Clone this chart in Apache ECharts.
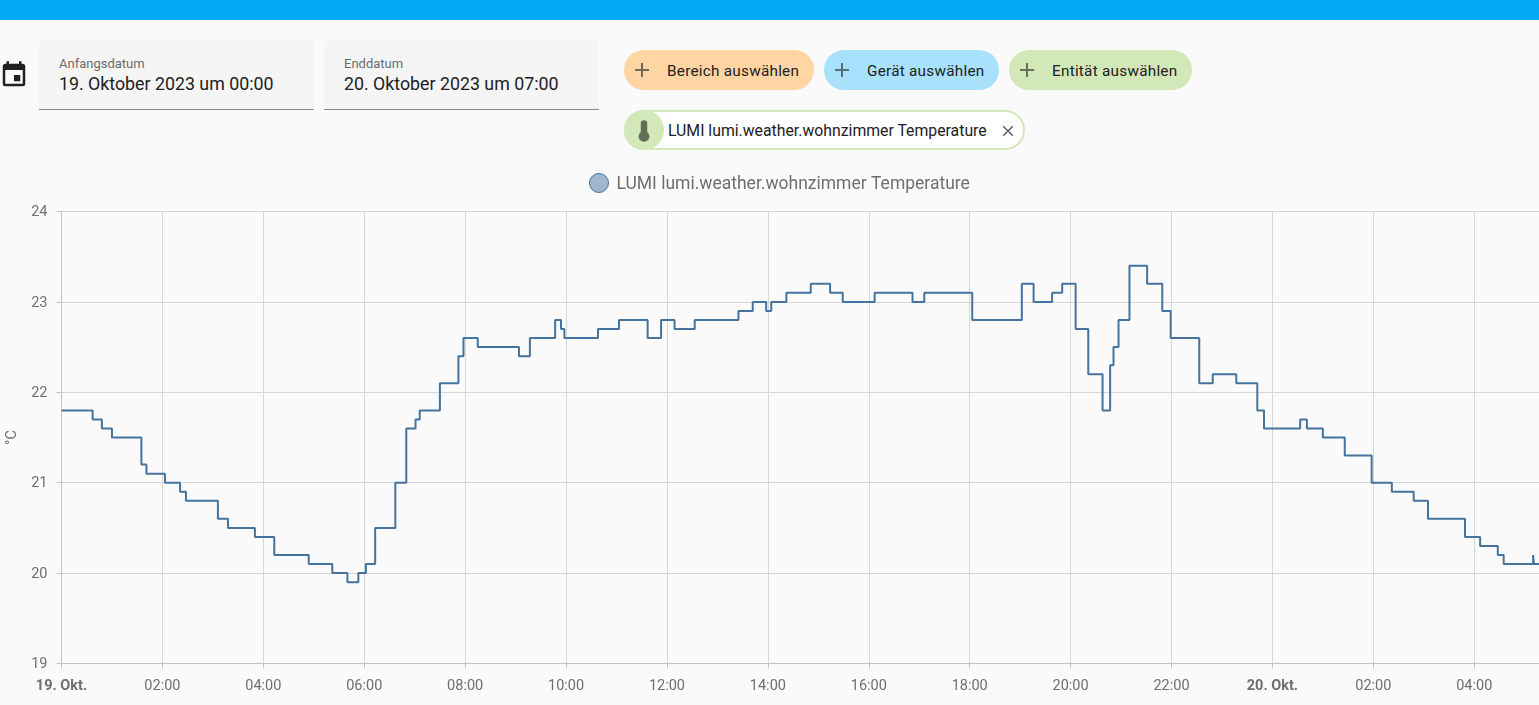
<!DOCTYPE html>
<html lang="de">
  <head>
    <meta charset="UTF-8" />
    <title>Verlauf</title>
    <script src="https://cdn.jsdelivr.net/npm/echarts@6/dist/echarts.min.js"></script>
    <style>
      * { margin: 0; padding: 0; box-sizing: border-box; }
      html, body { width: 1539px; height: 705px; overflow: hidden; background: #fafafa; font-family: Roboto, sans-serif; }
      #topbar { position: absolute; left: 0; top: 0; width: 1539px; height: 20px; background: #03a9f4; }
      #charts { position: absolute; left: 0; top: 160px; width: 1539px; height: 545px; }
      .field { position: absolute; top: 40px; width: 275px; height: 70px; background: #f5f5f5; border-bottom: 1px solid #8c8c8c; border-radius: 4px 4px 0 0; }
      .field .lab { position: absolute; left: 20px; top: 16px; font-size: 13px; color: #6b6b6b; }
      .field .val { position: absolute; left: 20px; top: 33px; font-size: 17.8px; color: #212121; white-space: nowrap; }
      .chip { position: absolute; top: 50px; height: 40px; border-radius: 20px; font-size: 15.3px; line-height: 42px; color: #212121; white-space: nowrap; letter-spacing: 0.25px; }
      .chip svg { position: absolute; left: 6px; top: 8px; }
      .chip span { position: absolute; left: 43px; }
      #picked { position: absolute; left: 624px; top: 110px; width: 401px; height: 40px; border: 2px solid #d3e8b9; border-radius: 20px; background: #fff; font-size: 15.8px; line-height: 38px; color: #212121; white-space: nowrap; }
      #picked .ico { position: absolute; left: -2px; top: -2px; width: 40px; height: 40px; border-radius: 20px; background: #d3e8b9; }
      #picked span { position: absolute; left: 42px; }
      #picked svg.x { position: absolute; left: 373px; top: 10px; }
    </style>
  </head>
  <body>
    <div id="topbar"></div>

    <svg style="position:absolute;left:-1px;top:60px" width="30" height="30" viewBox="0 0 24 24">
      <path fill="#212121" d="M19,19H5V8H19M16,1V3H8V1H6V3H5C3.89,3 3,3.89 3,5V19A2,2 0 0,0 5,21H19A2,2 0 0,0 21,19V5C21,3.89 20.1,3 19,3H18V1M17,12H12V17H17V12Z" />
    </svg>
    <div class="field" style="left:39px"><div class="lab">Anfangsdatum</div><div class="val">19. Oktober 2023 um 00:00</div></div>
    <div class="field" style="left:324px"><div class="lab">Enddatum</div><div class="val">20. Oktober 2023 um 07:00</div></div>

    <div class="chip" style="left:624px;width:190px;background:#ffd5a3">
      <svg width="24" height="24" viewBox="0 0 24 24"><path fill="#6e675d" d="M19,13H13V19H11V13H5V11H11V5H13V11H19V13Z" /></svg><span>Bereich auswählen</span>
    </div>
    <div class="chip" style="left:824px;width:175px;background:#a8e1fc">
      <svg width="24" height="24" viewBox="0 0 24 24"><path fill="#5a6f7c" d="M19,13H13V19H11V13H5V11H11V5H13V11H19V13Z" /></svg><span>Gerät auswählen</span>
    </div>
    <div class="chip" style="left:1009px;width:183px;background:#d3e8b9">
      <svg width="24" height="24" viewBox="0 0 24 24"><path fill="#66705a" d="M19,13H13V19H11V13H5V11H11V5H13V11H19V13Z" /></svg><span>Entität auswählen</span>
    </div>

    <div id="picked">
      <div class="ico">
        <svg style="position:absolute;left:7px;top:8px" width="26" height="26" viewBox="0 0 24 24">
          <path fill="#636e57" d="M15 13V5A3 3 0 0 0 9 5V13A5 5 0 1 0 15 13Z" />
        </svg>
      </div>
      <span>LUMI lumi.weather.wohnzimmer Temperature</span>
      <svg class="x" width="18" height="18" viewBox="0 0 24 24"><path fill="#616161" d="M19,6.41L17.59,5L12,10.59L6.41,5L5,6.41L10.59,12L5,17.59L6.41,19L12,13.41L17.59,19L19,17.59L13.41,12L19,6.41Z" /></svg>
    </div>

    <div id="charts"></div>

    <script>
      var seriesName = "LUMI lumi.weather.wohnzimmer Temperature";
      // minuten seit 19.10. 00:00, jeweils wo ein neuer wert beginnt
      var minutes = [
        0, 37, 48, 60, 95, 101, 123, 141, 148, 186, 198, 230, 253, 294, 322, 340, 353, 362, 373, 397,
        410, 421, 426, 450, 472, 478, 495, 544, 557, 587, 594, 598, 638, 663, 697, 713, 729, 753, 805, 822,
        838, 844, 862, 891, 914, 929, 967, 1012, 1026, 1083, 1142, 1156, 1178, 1190, 1206, 1221, 1238, 1247, 1251, 1257,
        1270, 1291, 1309, 1319, 1353, 1369, 1397, 1422, 1430, 1473, 1481, 1500, 1526, 1558, 1582, 1608, 1625, 1669, 1687, 1708,
        1715, 1750, 1751, 1757,
      ];
      var temps = [
        21.8, 21.7, 21.6, 21.5, 21.2, 21.1, 21.0, 20.9, 20.8, 20.6, 20.5, 20.4, 20.2, 20.1, 20.0, 19.9, 20.0, 20.1, 20.5, 21.0,
        21.6, 21.7, 21.8, 22.1, 22.4, 22.6, 22.5, 22.4, 22.6, 22.8, 22.7, 22.6, 22.7, 22.8, 22.6, 22.8, 22.7, 22.8, 22.9, 23.0,
        22.9, 23.0, 23.1, 23.2, 23.1, 23.0, 23.1, 23.0, 23.1, 22.8, 23.2, 23.0, 23.1, 23.2, 22.7, 22.2, 21.8, 22.3, 22.5, 22.8,
        23.4, 23.2, 22.9, 22.6, 22.1, 22.2, 22.1, 21.8, 21.6, 21.7, 21.6, 21.5, 21.3, 21.0, 20.9, 20.8, 20.6, 20.4, 20.3, 20.2,
        20.1, 20.2, 20.1, 20.1,
      ];

      var start = new Date(2023, 9, 19, 0, 0).getTime();
      var points = minutes.map((m, i) => [start + m * 60000, temps[i]]);

      var myEcharts = echarts.init(document.getElementById("charts"));
      var options = {
        textStyle: { fontFamily: "Roboto" },
        animation: false,
        legend: {
          top: 13,
          left: 589,
          padding: 0,
          icon: "path://M50,0A50,50 0 1,1 50,100A50,50 0 1,1 50,0Z",
          itemWidth: 19,
          itemHeight: 20,
          itemStyle: { color: "rgba(68,115,158,0.5)", borderColor: "#44739e", borderWidth: 1 },
          formatter: "{t|{name}}",
          textStyle: {
            rich: { t: { color: "#6f6f6f", fontSize: 17.5, fontFamily: "Roboto", padding: [4, 0, 0, 3] } },
          },
          data: [seriesName],
        },
        grid: { left: 61.5, right: 0, top: 51.5, bottom: 41.5, outerBoundsMode: "none" },
        xAxis: {
          type: "time",
          min: start,
          max: start + 1757 * 60000,
          splitNumber: 12,
          axisLine: { lineStyle: { color: "#c4c4c4", width: 1 } },
          axisTick: { show: true, length: 5, lineStyle: { color: "#c4c4c4" } },
          splitLine: { show: true, lineStyle: { color: "#d6d6d6", width: 1 } },
          axisLabel: {
            color: "#6f6f6f",
            fontSize: 14.5,
            margin: 15,
            showMaxLabel: false,
            hideOverlap: false,
            formatter: function (val) {
              var d = new Date(val);
              if (d.getHours() == 0) return "{day|" + d.getDate() + ". Okt.}";
              return String(d.getHours()).padStart(2, "0") + ":00";
            },
            rich: { day: { fontWeight: "bold", fontSize: 14.5, color: "#6f6f6f", fontFamily: "Roboto" } },
          },
        },
        yAxis: {
          type: "value",
          min: 19,
          max: 24,
          interval: 1,
          name: "°C",
          nameLocation: "middle",
          nameRotate: 90,
          nameGap: 41,
          nameTextStyle: { color: "#6f6f6f", fontSize: 14.5 },
          axisLine: { show: true, lineStyle: { color: "#c4c4c4", width: 1 } },
          axisTick: { show: true, length: 5, lineStyle: { color: "#c4c4c4" } },
          splitLine: { lineStyle: { color: "#d6d6d6", width: 1 } },
          axisLabel: {
            margin: 14,
            formatter: "{v|{value}}",
            rich: { v: { color: "#6f6f6f", fontSize: 14.5, fontFamily: "Roboto", padding: [2, 0, 0, 0] } },
          },
        },
        series: [
          {
            name: seriesName,
            type: "line",
            step: "end",
            showSymbol: false,
            lineStyle: { color: "#44739e", width: 2 },
            itemStyle: { color: "#44739e" },
            data: points,
          },
        ],
      };
      myEcharts.setOption(options);
    </script>
  </body>
</html>
